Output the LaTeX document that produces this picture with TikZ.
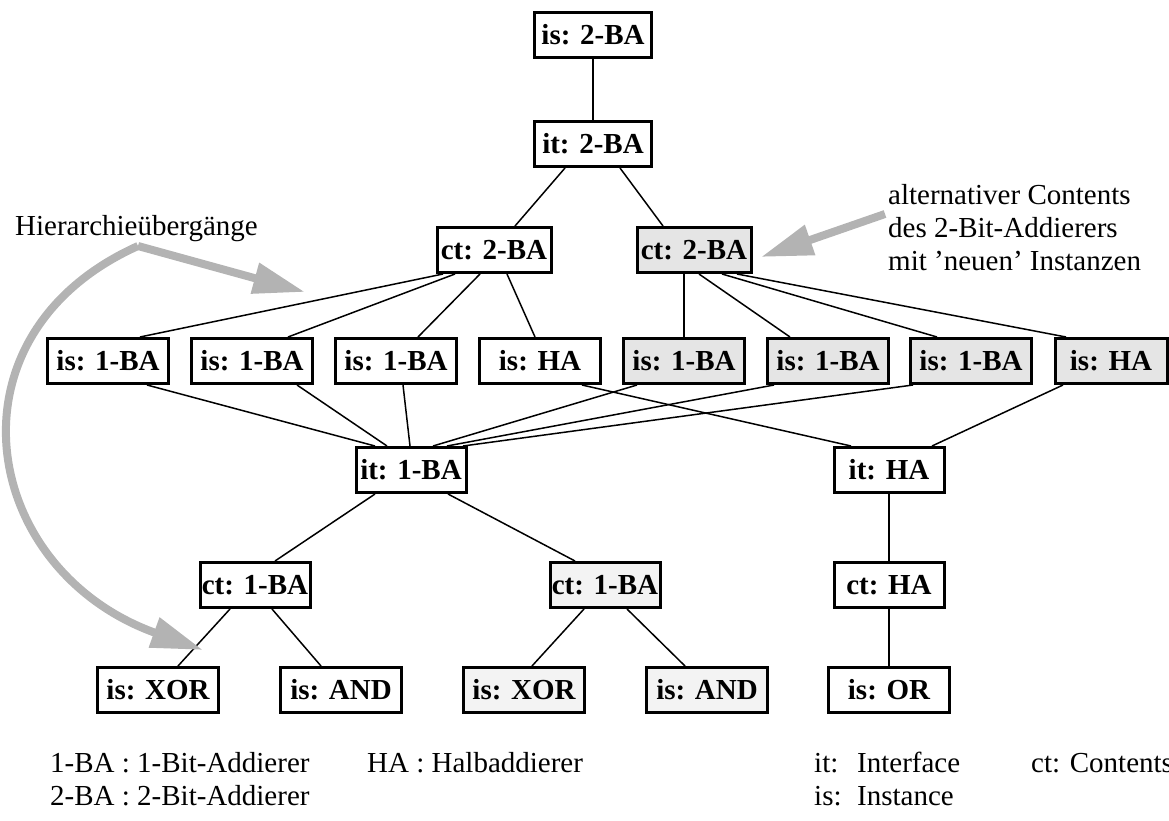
\documentclass[tikz,border=0pt]{standalone}
\usepackage{fontspec}
\setmainfont{Liberation Serif}
\usetikzlibrary{arrows.meta}
\definecolor{hintgray}{RGB}{179,179,179}
\definecolor{altfill}{RGB}{229,229,229}
\definecolor{altlight}{RGB}{243,243,243}

\begin{document}
\begin{tikzpicture}[x=1pt,y=-1pt,
  blk/.style={draw,line width=3pt,fill=white,minimum height=45pt,minimum width=110pt,
    inner sep=0pt,font=\fontsize{29}{34}\selectfont\bfseries},
  alt/.style={blk,fill=altfill},
  altlt/.style={blk,fill=altlight},
  wide/.style={minimum width=121pt},
  edge/.style={line width=1.5pt},
  hint/.style={hintgray,line width=8pt,-{Triangle[length=52pt,width=30pt]}},
  txt/.style={font=\fontsize{29}{33}\selectfont,inner sep=0pt,anchor=base west}]
  \useasboundingbox (0,0) rectangle (1169,821);

  % top: 2-bit adder
  \node[blk,minimum width=117pt] (is2ba) at (593,35) {is: 2-BA};
  \node[blk,minimum width=117pt] (it2ba) at (593,144) {it: 2-BA};
  \node[blk,minimum width=114pt] (ct2ba) at (494,250) {ct: 2-BA};
  \node[alt,minimum width=114pt] (ct2bx) at (694,250) {ct: 2-BA};

  % instances of both contents
  \node[blk,wide] (is1a) at (108,361) {is: 1-BA};
  \node[blk,wide] (is1b) at (252,361) {is: 1-BA};
  \node[blk,wide] (is1c) at (396,361) {is: 1-BA};
  \node[blk,wide] (isha) at (540,361) {is: HA};
  \node[alt,wide] (ix1a) at (684,361) {is: 1-BA};
  \node[alt,wide] (ix1b) at (828,361) {is: 1-BA};
  \node[alt,wide] (ix1c) at (971,361) {is: 1-BA};
  \node[alt,minimum width=112pt] (ixha) at (1111,361) {is: HA};

  % interfaces and their contents
  \node[blk] (it1ba) at (411,470) {it: 1-BA};
  \node[blk] (itha) at (889,470) {it: HA};
  \node[blk] (ct1ba) at (255,585) {ct: 1-BA};
  \node[altlt] (ct1bx) at (605,585) {ct: 1-BA};
  \node[blk] (ctha) at (889,585) {ct: HA};

  % gates
  \node[blk,wide] (isxor) at (158,690) {is: XOR};
  \node[blk,wide] (isand) at (341,690) {is: AND};
  \node[altlt,wide] (ixxor) at (524,690) {is: XOR};
  \node[altlt,wide] (ixand) at (707,690) {is: AND};
  \node[blk,wide] (isor) at (889,690) {is: OR};

  % connectors
  \draw[edge] (is2ba) -- (it2ba);
  \draw[edge] ([xshift=-28pt]it2ba.south) -- ([xshift=21pt]ct2ba.north);
  \draw[edge] ([xshift=27pt]it2ba.south) -- ([xshift=-31pt]ct2bx.north);

  \draw[edge] ([xshift=-51pt]ct2ba.south) -- ([xshift=32pt]is1a.north);
  \draw[edge] ([xshift=-39pt]ct2ba.south) -- ([xshift=36pt]is1b.north);
  \draw[edge] ([xshift=-14pt]ct2ba.south) -- ([xshift=22pt]is1c.north);
  \draw[edge] ([xshift=13pt]ct2ba.south) -- ([xshift=-5pt]isha.north);

  \draw[edge] ([xshift=-10pt]ct2bx.south) -- (ix1a.north);
  \draw[edge] ([xshift=5pt]ct2bx.south) -- ([xshift=-38pt]ix1b.north);
  \draw[edge] ([xshift=28pt]ct2bx.south) -- ([xshift=-34pt]ix1c.north);
  \draw[edge] ([xshift=43pt]ct2bx.south) -- ([xshift=-45pt]ixha.north);

  \draw[edge] ([xshift=39pt]is1a.south) -- ([xshift=-36pt]it1ba.north);
  \draw[edge] ([xshift=45pt]is1b.south) -- ([xshift=-24pt]it1ba.north);
  \draw[edge] ([xshift=7pt]is1c.south) -- ([xshift=-1pt]it1ba.north);
  \draw[edge] ([xshift=-47pt]ix1a.south) -- ([xshift=22pt]it1ba.north);
  \draw[edge] ([xshift=-54pt]ix1b.south) -- ([xshift=36pt]it1ba.north);
  \draw[edge] ([xshift=-58pt]ix1c.south) -- ([xshift=52pt]it1ba.north);
  \draw[edge] ([xshift=42pt]isha.south) -- ([xshift=-38pt]itha.north);
  \draw[edge] ([xshift=-48pt]ixha.south) -- ([xshift=43pt]itha.north);

  \draw[edge] ([xshift=-36pt]it1ba.south) -- ([xshift=20pt]ct1ba.north);
  \draw[edge] ([xshift=37pt]it1ba.south) -- ([xshift=-30pt]ct1bx.north);
  \draw[edge] (itha) -- (ctha);
  \draw[edge] (ctha) -- (isor);

  \draw[edge] ([xshift=-25pt]ct1ba.south) -- ([xshift=20pt]isxor.north);
  \draw[edge] ([xshift=17pt]ct1ba.south) -- ([xshift=-20pt]isand.north);
  \draw[edge] ([xshift=-21pt]ct1bx.south) -- ([xshift=8pt]ixxor.north);
  \draw[edge] ([xshift=22pt]ct1bx.south) -- ([xshift=-22pt]ixand.north);

  % hints
  \coordinate (hub) at (138,246);
  \coordinate (tipa) at (305,292);
  \coordinate (tipb) at (203,650);
  \coordinate (altsrc) at (885,214);
  \coordinate (alttip) at (761,257);
  \node[txt] (hublbl) at (15,235) {Hierarchieübergänge};
  \draw[hint] (hub) -- (tipa);
  \draw[hint] (hub) .. controls (-60,335) and (-20,570) .. (tipb);
  \node[txt,anchor=north west,align=left] (altlbl) at (888,184)
    {alternativer Contents\\des 2-Bit-Addierers\\mit 'neuen' Instanzen};
  \draw[hint] (altsrc) -- (alttip);

  % legend
  \node[txt] (key1ba) at (50,772) {1-BA : 1-Bit-Addierer};
  \node[txt] (key2ba) at (50,805) {2-BA : 2-Bit-Addierer};
  \node[txt] (keyha) at (367,772) {HA : Halbaddierer};
  \node[txt] (keyit) at (814,772) {it:};
  \node[txt] (keyis) at (814,805) {is:};
  \node[txt] (descit) at (857,772) {Interface};
  \node[txt] (descis) at (857,805) {Instance};
  \node[txt] (keyct) at (1031,772) {ct: Contents};
\end{tikzpicture}
\end{document}
